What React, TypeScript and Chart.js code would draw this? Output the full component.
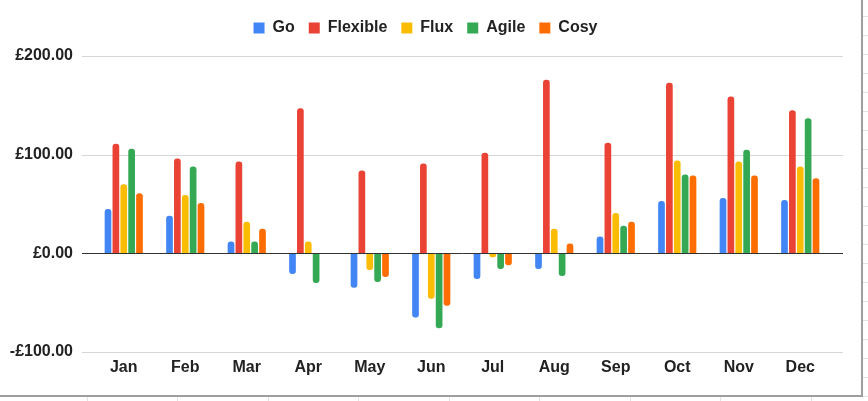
import React, { useEffect, useRef } from "react";
import { Chart, registerables } from "chart.js";

Chart.register(...registerables);

const months = ["Jan", "Feb", "Mar", "Apr", "May", "Jun", "Jul", "Aug", "Sep", "Oct", "Nov", "Dec"];
const go = [45, 38, 12, -21, -35, -65, -26, -16, 17, 53, 56, 54];
const flexible = [111, 96, 93, 147, 84, 91, 102, 176, 112, 173, 159, 145];
const flux = [70, 59, 32, 12, -17, -46, -4, 25, 41, 94, 93, 88];
const agile = [106, 88, 12, -30, -29, -76, -16, -23, 28, 80, 105, 137];
const cosy = [61, 51, 25, 0, -24, -53, -12, 10, 32, 79, 79, 76];
const yTicks = [-100, 0, 100, 200];

const colours = ["#4285f4", "#ea4335", "#fbbc04", "#34a853", "#ff6d01"];
const FONT = "'Liberation Sans', Arial, sans-serif";

// horizontal grid lines run a bit past the category area, like Sheets does
const gridPlugin = {
  id: "sheetGrid",
  beforeInit(chart: any) {
    // leave extra room under the legend
    const fit = chart.legend.fit;
    chart.legend.fit = function () {
      fit.call(this);
      this.height += 10;
    };
  },
  afterLayout(chart: any) {
    // legend sits centred on the whole panel, not on the padded box
    chart.legend.left += 10;
    chart.legend.right += 10;
  },
  beforeDatasetsDraw(chart: any) {
    const { ctx, chartArea, scales } = chart;
    ctx.save();
    ctx.lineWidth = 1;
    ctx.strokeStyle = "#d6d6d6";
    for (const v of yTicks) {
      if (v === 0) continue;
      const y = Math.round(scales.y.getPixelForValue(v)) + 0.5;
      ctx.beginPath();
      ctx.moveTo(chartArea.left - 11, y);
      ctx.lineTo(chartArea.right + 12, y);
      ctx.stroke();
    }
    ctx.restore();
  },
  afterDatasetsDraw(chart: any) {
    const { ctx, chartArea, scales } = chart;
    const y = Math.round(scales.y.getPixelForValue(0)) + 0.5;
    ctx.save();
    ctx.strokeStyle = "#333333";
    ctx.lineWidth = 1;
    ctx.beginPath();
    ctx.moveTo(chartArea.left - 11, y);
    ctx.lineTo(chartArea.right + 12, y);
    ctx.stroke();
    ctx.restore();
  },
};

function BarChart() {
  const canvasRef = useRef<HTMLCanvasElement>(null);

  useEffect(() => {
    const canvas = canvasRef.current;
    if (!canvas) return;
    const series = [
      ["Go", go],
      ["Flexible", flexible],
      ["Flux", flux],
      ["Agile", agile],
      ["Cosy", cosy],
    ] as const;
    const chart = new Chart(canvas, {
      type: "bar",
      data: {
        labels: months,
        datasets: series.map(([label, values], i) => ({
          label,
          data: [...values],
          backgroundColor: colours[i],
          borderRadius: 3,
          categoryPercentage: 0.64,
          barPercentage: 0.85,
        })),
      },
      options: {
        responsive: false,
        animation: false,
        layout: { padding: { top: 6, right: 30, bottom: 0, left: 0 } },
        plugins: {
          tooltip: { enabled: false },
          legend: {
            position: "top",
            labels: {
              boxWidth: 11,
              boxHeight: 11,
              padding: 14,
              color: "#222",
              font: { family: FONT, size: 16, weight: "bold" },
            },
          },
        },
        scales: {
          x: {
            grid: { display: false, drawTicks: false },
            border: { display: false },
            ticks: {
              color: "#222",
              padding: 6,
              font: { family: FONT, size: 16, weight: "bold" },
            },
            afterFit: (s: any) => {
              s.height = 43;
            },
          },
          y: {
            min: -100,
            max: 200,
            afterBuildTicks: (s: any) => {
              s.ticks = yTicks.map((v) => ({ value: v }));
            },
            grid: { display: false, drawTicks: false },
            border: { display: false },
            ticks: {
              color: "#222",
              padding: 20,
              font: { family: FONT, size: 16, weight: "bold" },
              callback: (v: any) => (v < 0 ? "-" : "") + "£" + Math.abs(v).toFixed(2),
            },
            afterFit: (s: any) => {
              s.width = 93;
            },
          },
        },
      },
      plugins: [gridPlugin],
    });
    return () => chart.destroy();
  }, []);

  return <canvas ref={canvasRef} width={861} height={395} style={{ display: "block" }} />;
}

export default function App() {
  return (
    <div
      style={{
        position: "fixed",
        left: 0,
        top: 0,
        width: 868,
        height: 401,
        background:
          "repeating-linear-gradient(to right, transparent 0 87px, #e3e3e3 87px 88px, transparent 88px 90.5px), #fff",
      }}
    >
      <div
        style={{
          position: "absolute",
          right: 0,
          top: 0,
          width: 5,
          height: 401,
          background:
            "repeating-linear-gradient(to bottom, transparent 0 16px, #e3e3e3 16px 17px, transparent 17px 19px)",
        }}
      />
      <div
        style={{
          position: "absolute",
          left: 0,
          top: 0,
          width: 861,
          height: 395,
          background: "#fff",
          borderRight: "2px solid #9e9e9e",
          borderBottom: "2px solid #9e9e9e",
        }}
      >
        <BarChart />
      </div>
    </div>
  );
}
